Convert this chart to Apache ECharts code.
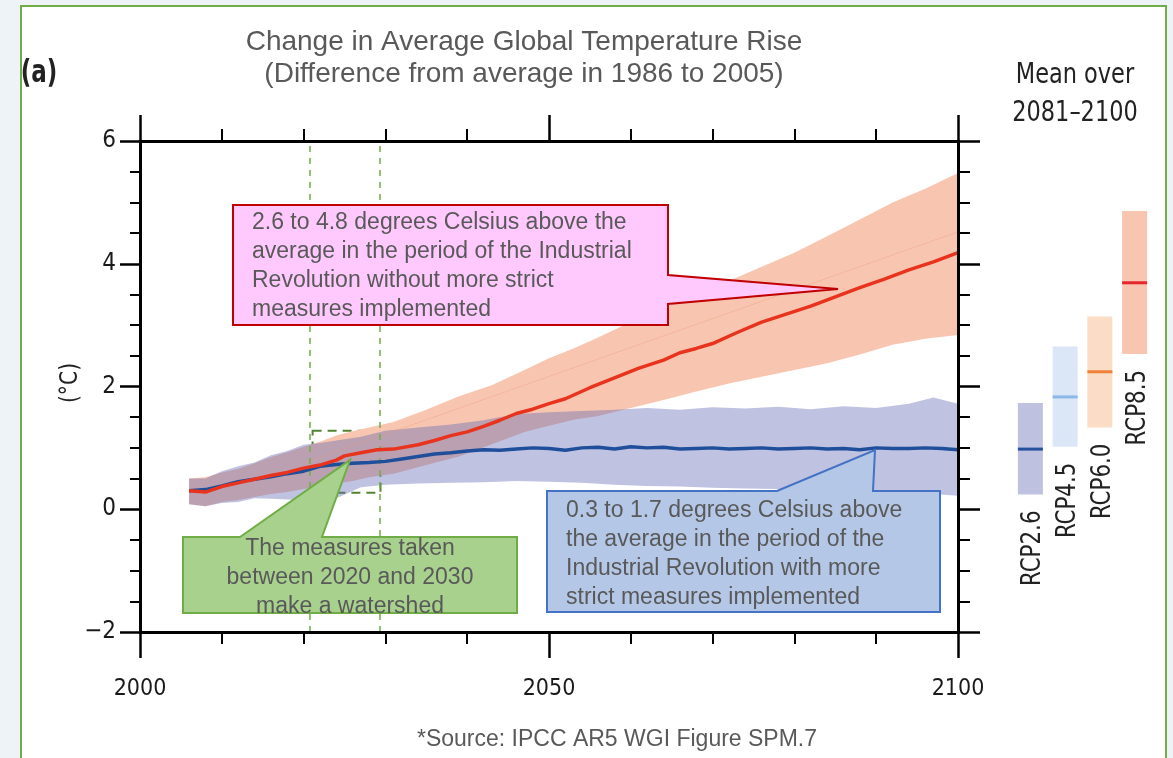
<!DOCTYPE html>
<html>
<head>
<meta charset="utf-8">
<script src="https://cdn.jsdelivr.net/npm/echarts@6/dist/echarts.min.js"></script>
<style>
  html, body { margin: 0; padding: 0; background: #eef3f8; }
  #frame { position: absolute; left: 20px; top: 5px; width: 1143px; height: 760px; background: #fff; border: 2px solid #70ad47; }
  #chart { position: absolute; left: 0; top: 0; width: 1173px; height: 758px; }
</style>
</head>
<body>
<div id="frame"></div>
<div id="chart"></div>
<script>
// RCP8.5 multi-model mean and its spread
const rcp85Years = [2006, 2008, 2010, 2012, 2014, 2016, 2018, 2020, 2022, 2024, 2025, 2027, 2029, 2031, 2034, 2036, 2038, 2040, 2042, 2044, 2046, 2048, 2050, 2052, 2055, 2058, 2061, 2064, 2066, 2068, 2070, 2073, 2076, 2079, 2082, 2085, 2088, 2091, 2094, 2097, 2100];
const rcp85Mean = [0.30, 0.28, 0.37, 0.43, 0.49, 0.55, 0.60, 0.67, 0.72, 0.80, 0.87, 0.92, 0.97, 0.98, 1.05, 1.12, 1.20, 1.26, 1.35, 1.45, 1.56, 1.63, 1.72, 1.80, 1.98, 2.14, 2.30, 2.43, 2.55, 2.62, 2.70, 2.88, 3.05, 3.18, 3.31, 3.46, 3.61, 3.75, 3.90, 4.03, 4.18];
const rcp85BandYears = [2006, 2008, 2010, 2012, 2014, 2016, 2018, 2020, 2022, 2024, 2026, 2028, 2031, 2035, 2039, 2043, 2047, 2050, 2053, 2056, 2060, 2064, 2068, 2072, 2076, 2080, 2084, 2088, 2092, 2096, 2100];
const rcp85High = [0.50, 0.52, 0.60, 0.66, 0.75, 0.85, 0.93, 1.02, 1.10, 1.20, 1.27, 1.33, 1.42, 1.62, 1.84, 2.02, 2.27, 2.46, 2.62, 2.80, 3.05, 3.28, 3.50, 3.72, 3.95, 4.18, 4.45, 4.72, 5.00, 5.22, 5.48];
const rcp85Low = [0.08, 0.05, 0.12, 0.15, 0.20, 0.25, 0.28, 0.33, 0.37, 0.42, 0.46, 0.52, 0.58, 0.72, 0.86, 1.06, 1.26, 1.36, 1.46, 1.52, 1.65, 1.78, 1.92, 2.05, 2.16, 2.27, 2.38, 2.52, 2.68, 2.78, 2.84];

// RCP2.6 multi-model mean and its spread
const rcp26Years = [2006, 2008, 2010, 2012, 2014, 2016, 2018, 2020, 2022, 2024, 2026, 2028, 2030, 2032, 2034, 2036, 2038, 2040, 2042, 2044, 2046, 2048, 2050, 2052, 2054, 2056, 2058, 2060, 2062, 2064, 2066, 2068, 2070, 2072, 2074, 2076, 2078, 2080, 2082, 2084, 2086, 2088, 2090, 2092, 2094, 2096, 2098, 2100];
const rcp26Mean = [0.30, 0.32, 0.38, 0.45, 0.49, 0.53, 0.58, 0.62, 0.70, 0.73, 0.75, 0.76, 0.78, 0.82, 0.86, 0.90, 0.92, 0.95, 0.97, 0.96, 0.98, 1.00, 0.99, 0.96, 1.00, 1.01, 0.98, 1.02, 1.00, 1.01, 0.98, 0.99, 1.00, 0.98, 0.99, 1.00, 0.98, 0.99, 1.00, 0.98, 0.99, 0.97, 1.00, 0.99, 0.99, 1.00, 0.99, 0.97];
const rcp26BandYears = [2006, 2008, 2010, 2012, 2014, 2016, 2018, 2020, 2022, 2024, 2027, 2030, 2034, 2038, 2042, 2046, 2050, 2054, 2058, 2062, 2066, 2070, 2074, 2078, 2082, 2086, 2090, 2094, 2097, 2100];
const rcp26High = [0.50, 0.50, 0.62, 0.70, 0.76, 0.88, 0.95, 1.05, 1.08, 1.12, 1.18, 1.28, 1.33, 1.38, 1.45, 1.55, 1.58, 1.60, 1.62, 1.65, 1.62, 1.66, 1.64, 1.67, 1.63, 1.68, 1.65, 1.72, 1.82, 1.72];
const rcp26Low = [0.08, 0.05, 0.10, 0.12, 0.18, 0.17, 0.16, 0.15, 0.16, 0.18, 0.36, 0.40, 0.42, 0.43, 0.44, 0.46, 0.45, 0.43, 0.40, 0.38, 0.37, 0.35, 0.34, 0.33, 0.32, 0.30, 0.28, 0.26, 0.25, 0.22];

// faint straight guide inside the RCP8.5 band
const guideYears = [2020, 2100];
const guideVals = [0.75, 4.52];

// mean over 2081-2100 bars
const rcpNames = ['RCP2.6', 'RCP4.5', 'RCP6.0', 'RCP8.5'];
const rcpLow = [0.24, 1.02, 1.33, 2.53];
const rcpHigh = [1.73, 2.65, 3.14, 4.86];
const rcpMean = [0.98, 1.83, 2.24, 3.69];

// annotation anchors
const dividerYears = [2020.7, 2029.3];
const watershedYears = [2021.1, 2029.4];
const watershedTemps = [0.27, 1.28];

const pinkLines = ['2.6 to 4.8 degrees Celsius above the', 'average in the period of the Industrial', 'Revolution without more strict', 'measures implemented'];
const greenLines = ['The measures taken', 'between 2020 and 2030', 'make a watershed'];
const blueLines = ['0.3 to 1.7 degrees Celsius above', 'the average in the period of the', 'Industrial Revolution with more', 'strict measures implemented'];

const RCP_COLORS = {
  'RCP2.6': { fill: '#bfc1e1', line: '#27509f' },
  'RCP4.5': { fill: '#dbe6f6', line: '#8bb8e6' },
  'RCP6.0': { fill: '#fbdcc5', line: '#f0803a' },
  'RCP8.5': { fill: '#f8c5b1', line: '#e5262b' },
};

const condensed = '"DejaVu Sans Condensed", "Liberation Sans Narrow", sans-serif';
const arial = '"Liberation Sans", Arial, sans-serif';

const toPairs = (xs, ys) => xs.map((x, i) => [x, ys[i]]);

const bandSeries = (name, years, lows, highs, color, opacity, z) => ({
  type: 'custom',
  name,
  z,
  silent: true,
  xAxisIndex: 0,
  yAxisIndex: 0,
  data: years.map((y, i) => [y, lows[i], highs[i]]),
  encode: { x: 0, y: [1, 2] },
  renderItem: (params, api) => {
    if (params.dataIndex !== 0) return null;
    const upper = years.map((y, i) => api.coord([y, highs[i]]));
    const lower = years.map((y, i) => api.coord([y, lows[i]])).reverse();
    return { type: 'polygon', shape: { points: upper.concat(lower) }, style: { fill: color, opacity } };
  },
});

const lineSeries = (name, years, vals, color, width, z) => ({
  type: 'line',
  name,
  z,
  silent: true,
  xAxisIndex: 0,
  yAxisIndex: 0,
  data: toPairs(years, vals),
  showSymbol: false,
  lineStyle: { color, width },
});

const tickStyle = { color: '#000', width: 2.5 };
const minorStyle = { color: '#000', width: 2 };
const frameLine = { onZero: false, lineStyle: { color: '#000', width: 3 } };

const xFrame = (position, showLabel) => ({
  type: 'value', gridIndex: 0, position, z: 10,
  min: 2000, max: 2100, interval: 50,
  axisLine: frameLine,
  axisTick: { length: 26, lineStyle: tickStyle },
  minorTick: { show: true, splitNumber: 5, length: 12, lineStyle: minorStyle },
  splitLine: { show: false },
  minorSplitLine: { show: false },
  axisLabel: {
    show: showLabel, margin: 46, fontFamily: condensed, fontSize: 23, color: '#1a1a1a',
    formatter: (v) => String(v),
  },
});

const yFrame = (position, showLabel) => ({
  type: 'value', gridIndex: 0, position, z: 10,
  min: -2, max: 6, interval: 2,
  axisLine: frameLine,
  axisTick: { length: position === 'left' ? 20 : 22, lineStyle: tickStyle },
  minorTick: { show: true, splitNumber: 4, length: position === 'left' ? 10 : 12, lineStyle: minorStyle },
  splitLine: { show: false },
  minorSplitLine: { show: false },
  axisLabel: {
    show: showLabel, margin: 24, fontFamily: condensed, fontSize: 24, color: '#1a1a1a',
    formatter: (v) => (v < 0 ? '\u2212' + Math.abs(v) : String(v)),
  },
});

const callout = (points, fill, stroke) => ({
  type: 'polygon', z: 100, silent: true,
  shape: { points },
  style: { fill, stroke, lineWidth: 2 },
});

const calloutText = (lines, x, y, align) => ({
  type: 'text', z: 101, silent: true, x, y,
  style: { text: lines.join('\n'), font: `23px ${arial}`, fill: '#595959', align, verticalAlign: 'top', lineHeight: 29 },
});

const plainText = (text, x, y, font, fill, extra) => Object.assign({
  type: 'text', z: 101, silent: true, x, y,
  style: { text, font, fill, align: 'center', verticalAlign: 'middle' },
}, extra || {});

const option = {
  backgroundColor: 'transparent',
  animation: false,
  grid: [
    { left: 140, right: 215, top: 141, bottom: 126 },
    { left: 1013, width: 139, top: 141, bottom: 126 },
  ],
  xAxis: [
    xFrame('bottom', true),
    xFrame('top', false),
    { type: 'category', gridIndex: 1, data: rcpNames, show: false },
  ],
  yAxis: [
    yFrame('left', true),
    yFrame('right', false),
    { type: 'value', gridIndex: 1, min: -2, max: 6, show: false },
  ],
  series: [
    bandSeries('RCP8.5 range', rcp85BandYears, rcp85Low, rcp85High, '#f8c6b0', 1, 2),
    bandSeries('RCP2.6 range', rcp26BandYears, rcp26Low, rcp26High, 'rgb(95,102,180)', 0.4, 3),
    lineSeries('guide', guideYears, guideVals, 'rgba(236,150,120,0.35)', 1, 4),
    lineSeries('RCP2.6', rcp26Years, rcp26Mean, '#1f4e9b', 3.5, 5),
    lineSeries('RCP8.5', rcp85Years, rcp85Mean, '#e8341f', 3.5, 6),
    {
      type: 'line', name: 'watershed box', z: 50, silent: true, data: [],
      xAxisIndex: 0, yAxisIndex: 0,
      markArea: {
        silent: true,
        itemStyle: { color: 'rgba(0,0,0,0)', borderColor: '#548235', borderWidth: 2, borderType: [9, 6] },
        data: [[{ coord: [watershedYears[0], watershedTemps[1]] }, { coord: [watershedYears[1], watershedTemps[0]] }]],
      },
    },
    {
      type: 'line', name: 'dividers', z: 120, silent: true, data: [],
      xAxisIndex: 0, yAxisIndex: 0,
      markLine: {
        silent: true, symbol: ['none', 'none'], label: { show: false },
        lineStyle: { color: '#70ad47', width: 1.5, type: [6, 6] },
        data: dividerYears.map((x) => ({ xAxis: x })),
      },
    },
    {
      type: 'custom', name: 'Mean over 2081-2100', z: 5, silent: true, clip: false,
      xAxisIndex: 2, yAxisIndex: 2,
      data: rcpNames.map((n, i) => [i, rcpLow[i], rcpHigh[i], rcpMean[i]]),
      encode: { x: 0, y: [1, 2] },
      renderItem: (params, api) => {
        const name = rcpNames[params.dataIndex];
        const top = api.coord([api.value(0), api.value(2)]);
        const bottom = api.coord([api.value(0), api.value(1)]);
        const mid = api.coord([api.value(0), api.value(3)]);
        const w = 25;
        return {
          type: 'group',
          children: [
            { type: 'rect', shape: { x: top[0] - w / 2, y: top[1], width: w, height: bottom[1] - top[1] }, style: { fill: RCP_COLORS[name].fill } },
            { type: 'line', shape: { x1: mid[0] - w / 2, y1: mid[1], x2: mid[0] + w / 2, y2: mid[1] }, style: { stroke: RCP_COLORS[name].line, lineWidth: 3 } },
            {
              type: 'text', x: bottom[0] + 3, y: bottom[1] + 16, rotation: Math.PI / 2, scaleX: 0.88,
              style: { text: name, font: `27px ${condensed}`, fill: '#222', align: 'right', verticalAlign: 'middle' },
            },
          ],
        };
      },
    },
  ],
  graphic: [
    plainText('Change in Average Global Temperature Rise', 524, 42, `28px ${arial}`, '#595959'),
    plainText('(Difference from average in 1986 to 2005)', 524, 74, `28px ${arial}`, '#595959'),
    plainText('(a)', 39, 74, `bold 32px ${condensed}`, '#222', { scaleX: 0.8 }),
    plainText('Mean over', 1075, 75, `29px ${condensed}`, '#222', { scaleX: 0.86 }),
    plainText('2081\u20132100', 1075, 113, `29px ${condensed}`, '#222', { scaleX: 0.86 }),
    plainText('(\u00b0C)', 70, 383, `25px ${condensed}`, '#222', { rotation: Math.PI / 2, scaleX: 0.9 }),
    plainText('*Source: IPCC AR5 WGI Figure SPM.7', 617, 740, `23px ${arial}`, '#595959'),
    callout([[233, 205], [668, 205], [668, 275], [838, 289], [668, 304], [668, 325], [233, 325]], '#ffc9fe', '#c00000'),
    callout([[183, 537], [240, 537], [350, 460], [322, 537], [517, 537], [517, 613], [183, 613]], '#a9d18e', '#70ad47'),
    callout([[547, 491], [777, 491], [875, 450], [873, 491], [940, 491], [940, 612], [547, 612]], '#b4c7e7', '#4472c4'),
    calloutText(pinkLines, 252, 208, 'left'),
    calloutText(greenLines, 350, 534, 'center'),
    calloutText(blueLines, 566, 496, 'left'),
  ],
};

const chart = echarts.init(document.getElementById('chart'));
chart.setOption(option);
</script>
</body>
</html>
